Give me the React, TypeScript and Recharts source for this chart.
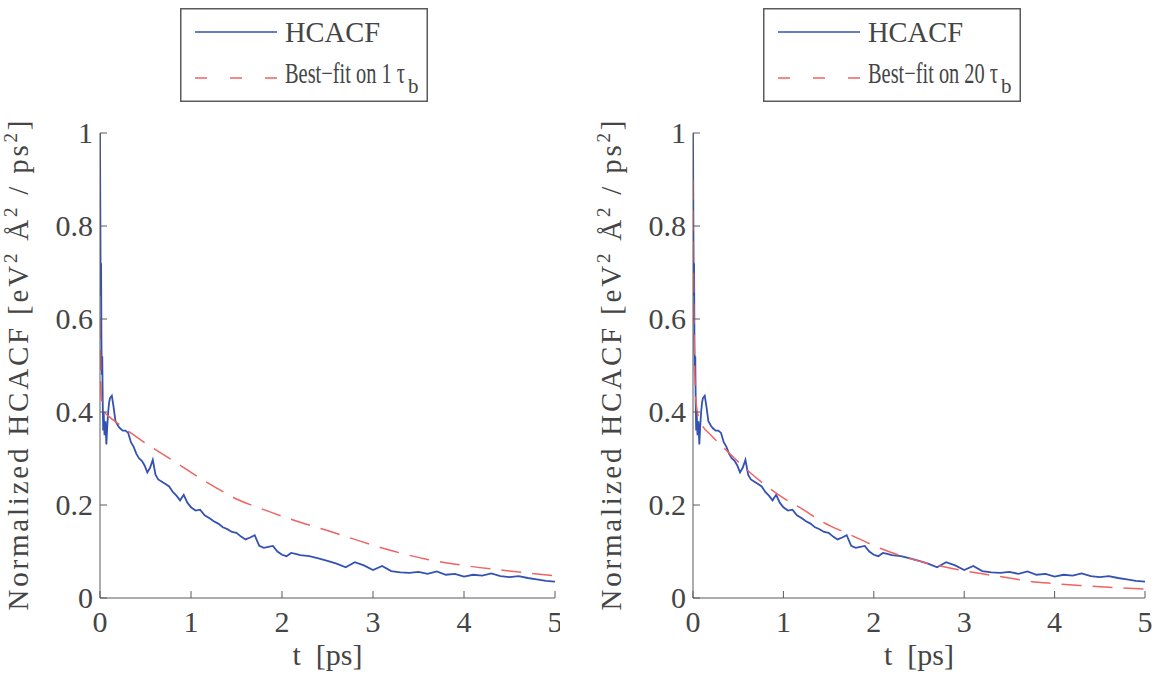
import { LineChart, Line, XAxis, YAxis, Legend } from "recharts";

// time axis [ps] for the raw HCACF trace
const T_HCACF = [
  0, 0.004, 0.008, 0.012, 0.016, 0.02, 0.025, 0.03, 0.035, 0.04, 0.05, 0.06,
  0.07, 0.08, 0.09, 0.1, 0.11, 0.13, 0.15, 0.17, 0.2, 0.22, 0.25, 0.28, 0.31,
  0.34, 0.37, 0.4, 0.43, 0.46, 0.49, 0.52, 0.55, 0.58, 0.61, 0.64, 0.68, 0.72,
  0.76, 0.8, 0.84, 0.88, 0.92, 0.96, 1.0, 1.05, 1.1, 1.15, 1.2, 1.25, 1.3,
  1.35, 1.4, 1.45, 1.5, 1.55, 1.6, 1.65, 1.7, 1.75, 1.8, 1.85, 1.9, 1.95, 2.0,
  2.05, 2.1, 2.15, 2.2, 2.3, 2.4, 2.5, 2.6, 2.7, 2.8, 2.9, 3.0, 3.1, 3.2, 3.3,
  3.4, 3.5, 3.6, 3.7, 3.8, 3.9, 4.0, 4.1, 4.2, 4.3, 4.4, 4.5, 4.6, 4.7, 4.8,
  4.9, 5.0,
];
const HCACF = [
  1.0, 0.82, 0.65, 0.72, 0.55, 0.48, 0.52, 0.42, 0.36, 0.4, 0.35, 0.38, 0.33,
  0.37, 0.4, 0.42, 0.43, 0.435, 0.41, 0.38, 0.37, 0.365, 0.36, 0.36, 0.355,
  0.335, 0.325, 0.31, 0.3, 0.295, 0.285, 0.27, 0.28, 0.297, 0.265, 0.255, 0.25,
  0.245, 0.24, 0.228, 0.22, 0.21, 0.222, 0.205, 0.195, 0.188, 0.19, 0.178,
  0.172, 0.165, 0.16, 0.152, 0.148, 0.142, 0.14, 0.132, 0.126, 0.13, 0.135,
  0.112, 0.108, 0.11, 0.112, 0.1, 0.093, 0.09, 0.097, 0.095, 0.092, 0.09,
  0.085, 0.08, 0.074, 0.066, 0.077, 0.07, 0.06, 0.069, 0.058, 0.055, 0.054,
  0.056, 0.052, 0.057, 0.05, 0.052, 0.046, 0.05, 0.048, 0.053, 0.047, 0.045,
  0.047, 0.043, 0.04, 0.037, 0.035,
];

// best fit on 1 tau_b
const T_FIT1 = [
  0, 0.01, 0.02, 0.05, 0.1, 0.2, 0.5, 0.75, 1.0, 1.25, 1.5, 1.8, 2.2, 2.5, 2.8,
  3.2, 3.6, 4.0, 4.5, 5.0,
];
const FIT1 = [
  0.6, 0.47, 0.42, 0.4, 0.39, 0.375, 0.333, 0.302, 0.27, 0.24, 0.213, 0.19,
  0.163, 0.145, 0.126, 0.102, 0.083, 0.07, 0.058, 0.048,
];

// best fit on 20 tau_b
const T_FIT20 = [
  0, 0.005, 0.01, 0.02, 0.04, 0.08, 0.2, 0.33, 0.63, 0.96, 1.22, 1.44, 1.75,
  2.07, 2.43, 2.8, 3.17, 3.5, 3.72, 4.0, 4.28, 4.6, 5.0,
];
const FIT20 = [
  0.9, 0.72, 0.6, 0.48, 0.41, 0.38, 0.35, 0.325, 0.27, 0.22, 0.19, 0.163,
  0.135, 0.107, 0.083, 0.066, 0.053, 0.043, 0.036, 0.031, 0.027, 0.023, 0.019,
];

const X_TICKS = [0, 1, 2, 3, 4, 5];
const Y_TICKS = [0, 0.2, 0.4, 0.6, 0.8, 1];

const FONT = "Liberation Serif";
const INK = "#454545";
const AXIS = "#5a5a5a";
const BLUE = "#3452b4";
const RED = "#ef6363";

const toRows = (ts: number[], vs: number[]) => ts.map((t, i) => ({ t, v: vs[i] }));

const TOP = 133;
const BOTTOM = 598;
const H = 678;

const BottomTick = ({ x, y, payload }: any) => (
  <g>
    <line x1={x} y1={y} x2={x} y2={y - 7} stroke={AXIS} />
    <text x={x} y={y + 34} textAnchor="middle" fontSize={30} fill={INK} fontFamily={FONT}>
      {payload.value}
    </text>
  </g>
);
const LeftTick = ({ x, y, payload }: any) => (
  <g>
    <line x1={x} y1={y} x2={x + 7} y2={y} stroke={AXIS} />
    <text x={x - 7} y={y + 10} textAnchor="end" fontSize={30} fill={INK} fontFamily={FONT}>
      {payload.value}
    </text>
  </g>
);
const TopTick = ({ x, y }: any) => <line x1={x} y1={y} x2={x} y2={y + 7} stroke={AXIS} />;
const RightTick = ({ x, y }: any) => <line x1={x} y1={y} x2={x - 7} y2={y} stroke={AXIS} />;

const YLabel = ({ viewBox }: any) => {
  const cx = viewBox.x + viewBox.width - 72;
  const cy = (TOP + BOTTOM) / 2;
  return (
    <text
      x={cx}
      y={cy}
      transform={`rotate(-90, ${cx}, ${cy})`}
      textAnchor="middle"
      fontSize={29}
      fill={INK}
      fontFamily={FONT}
      textLength={490}
      lengthAdjust="spacing"
    >
      Normalized HCACF [eV
      <tspan dy={-11} fontSize={19}>2</tspan>
      <tspan dy={11}> Å</tspan>
      <tspan dy={-11} fontSize={19}>2</tspan>
      <tspan dy={11}> / ps</tspan>
      <tspan dy={-11} fontSize={19}>2</tspan>
      <tspan dy={11}>]</tspan>
    </text>
  );
};

const XLabel = ({ viewBox }: any) => (
  <text
    x={viewBox.x + viewBox.width / 2}
    y={BOTTOM + 67}
    textAnchor="middle"
    fontSize={30}
    fill={INK}
    fontFamily={FONT}
    style={{ whiteSpace: "pre" }}
  >
    {"t  [ps]"}
  </text>
);

const makeLegend = (tauCount: string, boxW: number, fitW: number) => () => (
  <svg width={boxW} height={94} style={{ display: "block" }}>
    <rect x={0.75} y={0.75} width={boxW - 1.5} height={92.5} fill="#fff" stroke={AXIS} strokeWidth={1.5} />
    <line x1={15} y1={24} x2={97} y2={24} stroke={BLUE} strokeWidth={1.5} />
    <text x={105} y={34} fontSize={29} fill={INK} fontFamily={FONT} textLength={95} lengthAdjust="spacingAndGlyphs">
      HCACF
    </text>
    <line x1={15} y1={70} x2={97} y2={70} stroke={RED} strokeWidth={1.5} strokeDasharray="12 23" />
    <text
      x={105}
      y={75}
      fontSize={29}
      fill={INK}
      fontFamily={FONT}
      textLength={fitW}
      lengthAdjust="spacingAndGlyphs"
    >
      {`Best−fit on ${tauCount} τ`}
    </text>
    <text x={105 + fitW + 3} y={85} fontSize={21} fill={INK} fontFamily={FONT}>
      b
    </text>
  </svg>
);

interface PanelProps {
  left: number;
  width: number;
  rightGap: number;
  fitT: number[];
  fitV: number[];
  tau: string;
  legendLeft: number;
  legendW: number;
  fitTextW: number;
}

const Panel = ({ left, width, rightGap, fitT, fitV, tau, legendLeft, legendW, fitTextW }: PanelProps) => (
  <div style={{ position: "absolute", left, top: 0 }}>
    <LineChart
      width={width}
      height={H}
      margin={{ top: TOP, right: rightGap, bottom: H - BOTTOM - 50, left: 0 }}
    >
      <XAxis
        xAxisId="b"
        dataKey="t"
        type="number"
        domain={[0, 5]}
        ticks={X_TICKS}
        allowDataOverflow
        height={50}
        tickSize={0}
        tickMargin={0}
        tickLine={false}
        stroke={AXIS}
        tick={<BottomTick />}
        label={<XLabel />}
      />
      <XAxis
        xAxisId="t"
        orientation="top"
        dataKey="t"
        type="number"
        domain={[0, 5]}
        ticks={X_TICKS}
        allowDataOverflow
        height={0}
        tickSize={0}
        tickMargin={0}
        tickLine={false}
        stroke={AXIS}
        tick={<TopTick />}
      />
      <YAxis
        yAxisId="l"
        type="number"
        domain={[0, 1]}
        ticks={Y_TICKS}
        allowDataOverflow
        width={100}
        tickSize={0}
        tickMargin={0}
        tickLine={false}
        stroke={AXIS}
        tick={<LeftTick />}
        label={<YLabel />}
      />
      <YAxis
        yAxisId="r"
        orientation="right"
        type="number"
        domain={[0, 1]}
        ticks={Y_TICKS}
        allowDataOverflow
        width={0}
        tickSize={0}
        tickMargin={0}
        tickLine={false}
        stroke={AXIS}
        tick={<RightTick />}
      />
      <Legend
        layout="vertical"
        align="center"
        verticalAlign="middle"
        wrapperStyle={{ left: legendLeft - left, top: 8, width: legendW }}
        content={makeLegend(tau, legendW, fitTextW)}
      />
      <Line
        xAxisId="b"
        yAxisId="l"
        data={toRows(T_HCACF, HCACF)}
        dataKey="v"
        name="HCACF"
        type="linear"
        stroke={BLUE}
        strokeWidth={1.8}
        dot={false}
        isAnimationActive={false}
      />
      <Line
        xAxisId="b"
        yAxisId="l"
        data={toRows(fitT, fitV)}
        dataKey="v"
        name={`Best−fit on ${tau} τb`}
        type="monotone"
        stroke={RED}
        strokeWidth={1.5}
        strokeDasharray="20 11"
        dot={false}
        isAnimationActive={false}
      />
    </LineChart>
  </div>
);

export default function App() {
  return (
    <div
      style={{
        position: "absolute",
        left: 0,
        top: 0,
        width: 1158,
        height: H,
        background: "#fff",
        fontFamily: FONT,
      }}
    >
      <Panel
        left={0}
        width={560}
        rightGap={5}
        fitT={T_FIT1}
        fitV={FIT1}
        tau="1"
        legendLeft={180}
        legendW={248}
        fitTextW={120}
      />
      <Panel
        left={593}
        width={560}
        rightGap={8}
        fitT={T_FIT20}
        fitV={FIT20}
        tau="20"
        legendLeft={763}
        legendW={258}
        fitTextW={130}
      />
    </div>
  );
}
